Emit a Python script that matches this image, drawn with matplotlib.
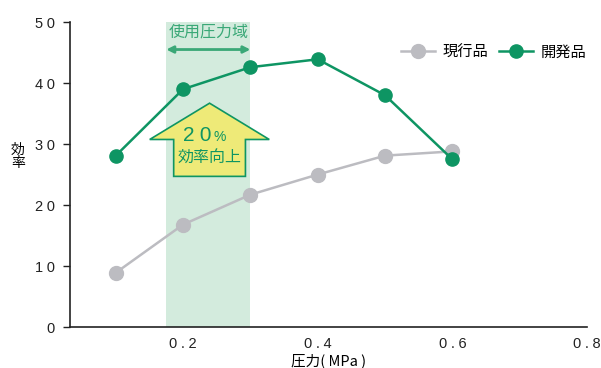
import matplotlib
matplotlib.use('Agg')
import matplotlib.pyplot as plt
from matplotlib.patches import Polygon

plt.rcParams['font.family'] = ['Liberation Sans', 'Noto Sans CJK JP', 'DejaVu Sans']

pressure = [0.1, 0.2, 0.3, 0.4, 0.5, 0.6]
current_eff = [8.9, 16.8, 21.7, 25.0, 28.1, 28.8]
new_eff = [28.1, 39.0, 42.6, 43.9, 38.0, 27.5]
series_names = ['現行品', '開発品']
x_ticks = [0.2, 0.4, 0.6, 0.8]
y_ticks = [0, 10, 20, 30, 40, 50]
band = (0.175, 0.30)

green = '#0e9563'
gray = '#bcbcc1'
cjk = ['Noto Sans CJK JP', 'DejaVu Sans']
sp = '\u2005'  # letter spacing like the original


def spaced(s):
    return sp.join(s)


fig = plt.figure(figsize=(6.01, 3.68), dpi=100)
ax = fig.add_axes([0.1165, 0.1114, 0.8602, 0.8286])

# usage pressure band
ax.axvspan(band[0], band[1], ymin=0, ymax=1, color='#d3ebdd', lw=0, zorder=0)
ax.annotate('', xy=(band[0], 45.5), xytext=(band[1], 45.5),
            arrowprops=dict(arrowstyle='<|-|>', color='#3aa877', lw=2,
                            mutation_scale=10, shrinkA=0, shrinkB=0))
ax.text(sum(band) / 2, 48.3, '使用圧力域', ha='center', va='center',
        color='#3aa877', fontsize=11.5, family=cjk)

ax.plot(pressure, current_eff, color=gray, lw=1.8, marker='o', ms=10,
        label=series_names[0], zorder=3)
ax.plot(pressure, new_eff, color=green, lw=1.8, marker='o', ms=9.5,
        label=series_names[1], zorder=3)

# up arrow
arrow = Polygon([(0.2393, 36.7), (0.328, 30.75), (0.2926, 30.75), (0.2926, 24.7),
                 (0.186, 24.7), (0.186, 30.75), (0.1504, 30.75)],
                closed=True, facecolor='#eeea78', edgecolor=green, lw=1.2, zorder=4)
ax.add_patch(arrow)
ax.text(0.2425, 31.4, spaced('20'), ha='right', va='center', color=green, fontsize=15, zorder=5)
ax.text(0.2445, 31.1, '%', ha='left', va='center', color=green, fontsize=10, zorder=5)
ax.text(0.2393, 27.9, '効率向上', ha='center', va='center', color=green,
        fontsize=11.5, family=cjk, zorder=5)

ax.set_xlim(0.032, 0.8)
ax.set_ylim(0, 50)
ax.set_xticks(x_ticks)
ax.set_xticklabels([spaced(f'{v:.1f}') for v in x_ticks])
ax.set_yticks(y_ticks)
ax.set_yticklabels([spaced(str(v)) for v in y_ticks])
ax.tick_params(axis='x', length=0, pad=7, labelsize=10.5, colors='#222222')
ax.tick_params(axis='y', length=5, width=1, pad=6, labelsize=10.5, colors='#222222')
for side in ['top', 'right']:
    ax.spines[side].set_visible(False)
for side in ['left', 'bottom']:
    ax.spines[side].set_color('#222222')
    ax.spines[side].set_linewidth(1.2)

ax.set_xlabel('圧力( MPa )', family=cjk, fontsize=10.5, labelpad=0)
ax.xaxis.set_label_coords(0.5, -0.085)
fig.text(0.03, 0.575, '効\n率', family=cjk, fontsize=10, ha='center', va='center',
         linespacing=1.0)

leg = ax.legend(loc='upper right', bbox_to_anchor=(1.025, 0.975), ncol=2, frameon=False,
                prop={'family': cjk, 'size': 11}, handlelength=2.2, columnspacing=0.7,
                handletextpad=0.5)

fig.savefig('out.png', dpi=100)
